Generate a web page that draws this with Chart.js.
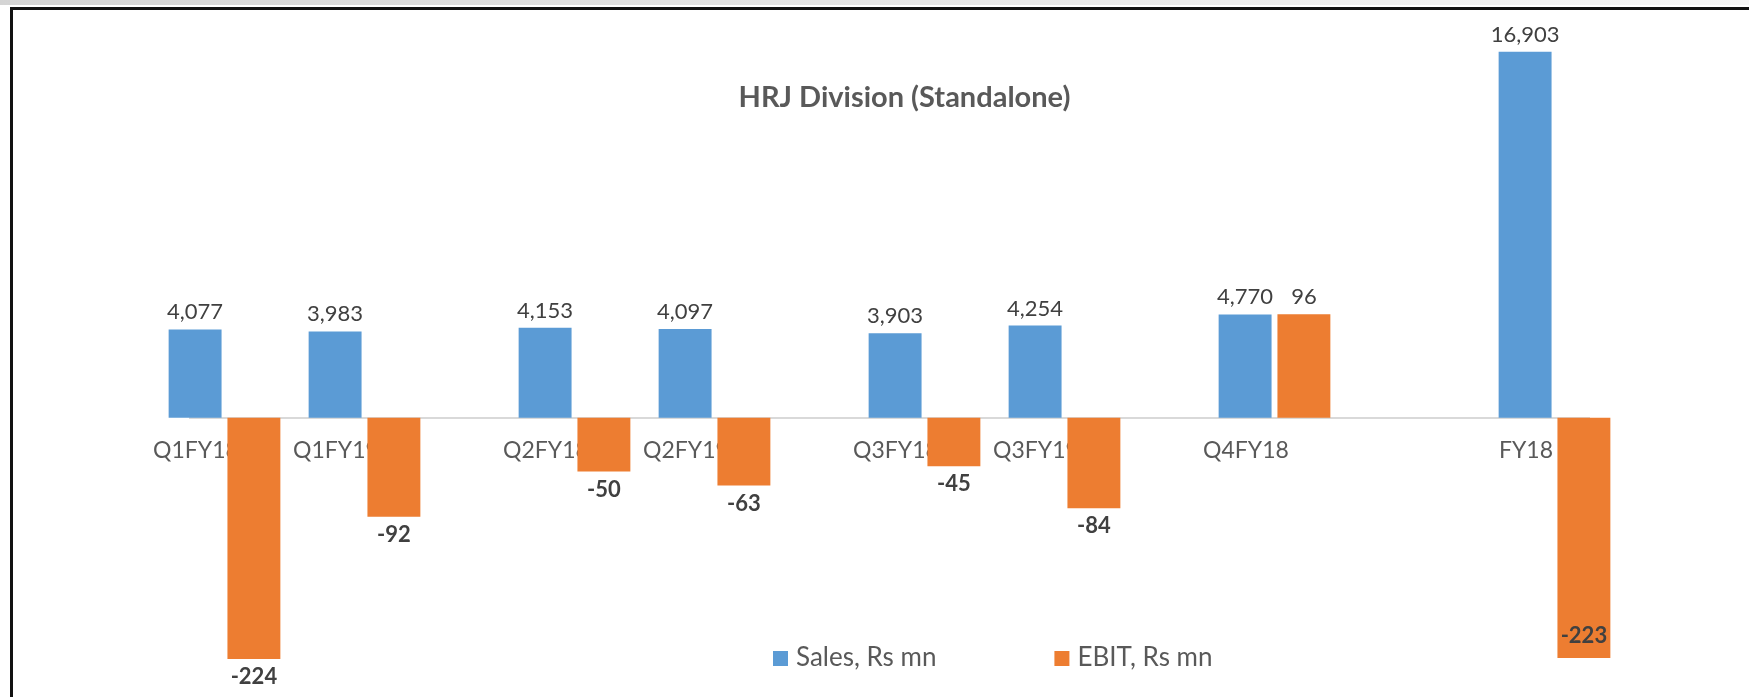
<!DOCTYPE html>
<html lang="en">
<head>
<meta charset="UTF-8">
<title>HRJ Division (Standalone)</title>
<script src="https://cdn.jsdelivr.net/npm/chart.js"></script>
<style>
    html, body { margin: 0; padding: 0; background: #fff; overflow: hidden; }
    .wrap { position: relative; width: 1749px; height: 697px; overflow: hidden; }
    .strip { position: absolute; left: 0; top: 0; width: 1749px; height: 5px; background: linear-gradient(to right, #d4d4d4, #f6f6f6); }
    .frame { position: absolute; left: 10px; top: 7px; width: 1760px; height: 720px; border-top: 3px solid #111; border-left: 3px solid #111; }
    .chart-box { position: absolute; left: 0; top: 0; width: 1749px; height: 697px; }
</style>
</head>
<body>
<div class="wrap">
    <div class="strip"></div>
    <div class="frame"></div>
    <div class="chart-box"><canvas id="hrjChart"></canvas></div>
</div>

<script>
const categories = ['Q1FY18', 'Q1FY19', 'Q2FY18', 'Q2FY19', 'Q3FY18', 'Q3FY19', 'Q4FY18', 'FY18'];
const sales = [4077, 3983, 4153, 4097, 3903, 4254, 4770, 16903];
const ebit = [-224, -92, -50, -63, -45, -84, 96, -223];

// empty category slots in front of each column group (the gaps in the original sheet)
const blanksBefore = [0, 1, 2, 1, 2, 1, 2, 3];

const slotLabels = [];
const salesSlots = [];
const ebitSlots = [];
categories.forEach((c, i) => {
    for (let b = 0; b < blanksBefore[i]; b++) {
        slotLabels.push('');
        salesSlots.push(null);
        ebitSlots.push(null);
    }
    slotLabels.push(c);
    salesSlots.push(sales[i]);
    ebitSlots.push(ebit[i]);
});

const FONT = 'Lato, "Open Sans", sans-serif';

// value labels like Excel's "outside end"
const valueLabels = {
    id: 'valueLabels',
    afterDatasetsDraw(chart) {
        const ctx = chart.ctx;
        ctx.save();
        ctx.textAlign = 'center';
        ctx.textBaseline = 'alphabetic';
        ctx.fillStyle = '#404040';
        chart.data.datasets.forEach((ds, di) => {
            const meta = chart.getDatasetMeta(di);
            meta.data.forEach((bar, i) => {
                const v = ds.data[i];
                if (v === null || v === undefined) return;
                const text = v.toLocaleString('en-US');
                if (v >= 0) {
                    ctx.font = '22px ' + FONT;
                    ctx.fillText(text, bar.x, bar.y - 10);
                } else if (i === ds.data.length - 1) {
                    // no room below the FY18 bar, label sits inside its end
                    ctx.font = 'bold 22px ' + FONT;
                    ctx.fillText(text, bar.x, bar.y - 15);
                } else {
                    ctx.font = 'bold 22px ' + FONT;
                    ctx.fillText(text, bar.x, bar.y + 25);
                }
            });
        });
        ctx.restore();
    }
};

// legend drawn inside the plot, near the bottom
const bottomLegend = {
    id: 'bottomLegend',
    afterDraw(chart) {
        const ctx = chart.ctx;
        ctx.save();
        ctx.font = '26px ' + FONT;
        ctx.textBaseline = 'middle';
        ctx.textAlign = 'left';
        let x = 773;
        const y = 658;
        chart.data.datasets.forEach(ds => {
            ctx.fillStyle = ds.backgroundColor;
            ctx.fillRect(x, y - 7, 15, 15);
            ctx.fillStyle = '#595959';
            ctx.fillText(ds.label, x + 23, y);
            x += 23 + ctx.measureText(ds.label).width + 118;
        });
        ctx.restore();
    }
};

const ctx = document.getElementById('hrjChart').getContext('2d');
const hrjChart = new Chart(ctx, {
    type: 'bar',
    data: {
        labels: slotLabels,
        datasets: [{
            label: 'Sales, Rs mn',
            data: salesSlots,
            backgroundColor: '#5B9BD5',
            yAxisID: 'y',
            clip: false
        }, {
            label: 'EBIT, Rs mn',
            data: ebitSlots,
            backgroundColor: '#ED7D31',
            yAxisID: 'y1',
            clip: false
        }]
    },
    options: {
        responsive: true,
        maintainAspectRatio: false,
        animation: false,
        datasets: {
            bar: { categoryPercentage: 1.68, barPercentage: 0.9 }
        },
        layout: {
            padding: { top: 0, right: 129.5, bottom: 10, left: 189.5 }
        },
        plugins: {
            legend: { display: false },
            tooltip: { enabled: false },
            title: {
                display: true,
                text: 'HRJ Division (Standalone)',
                color: '#595959',
                font: { family: FONT, size: 29, weight: 'bold', lineHeight: 1.2 },
                padding: { top: 80, bottom: 20 - 34.8 - 80 }
            }
        },
        scales: {
            x: {
                position: { y: 0 },
                grid: { display: false, drawTicks: false },
                border: { display: true, color: '#d9d9d9', width: 2 },
                ticks: {
                    autoSkip: false,
                    maxRotation: 0,
                    padding: 19,
                    labelOffset: -28.5,
                    color: '#595959',
                    font: { family: FONT, size: 23 }
                }
            },
            y: {
                display: false,
                min: -12440,
                max: 18371
            },
            y1: {
                position: 'right',
                min: -250,
                max: 369.2,
                grid: { display: false },
                border: { display: false },
                ticks: { display: false },
                afterFit(scale) { scale.width = 30; }
            }
        }
    },
    plugins: [valueLabels, bottomLegend]
});
</script>
</body>
</html>
